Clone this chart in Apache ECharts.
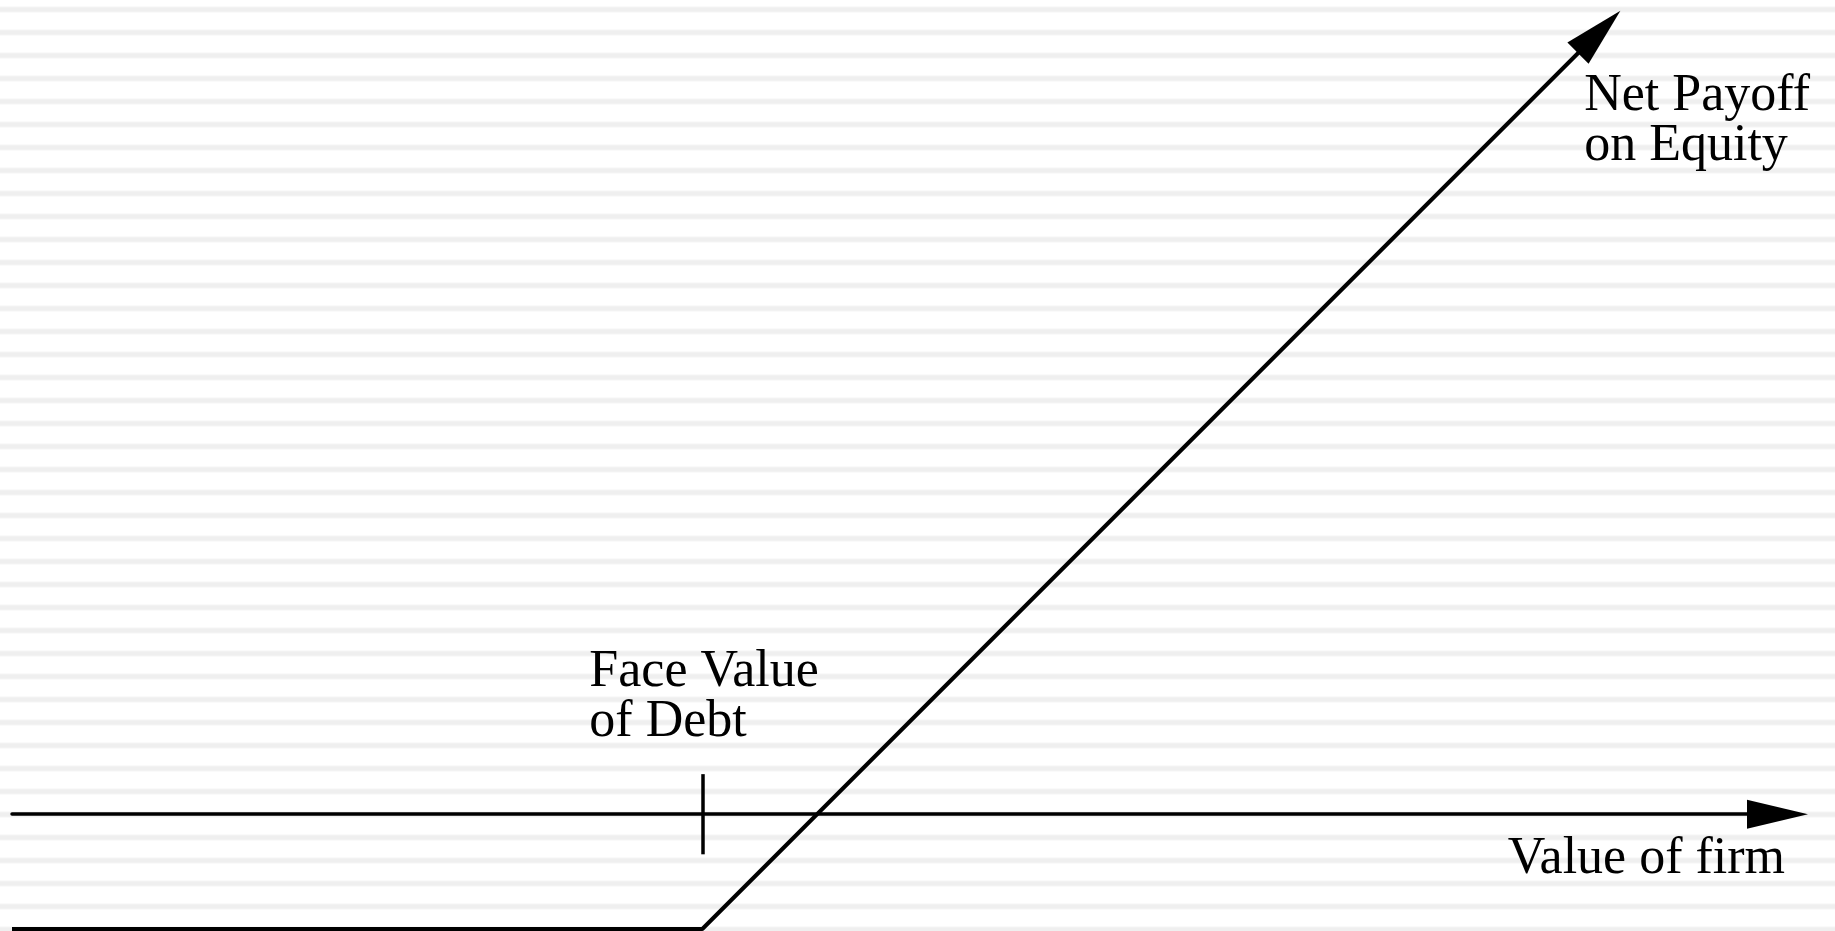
<!DOCTYPE html>
<html>
<head>
<meta charset="utf-8">
<title>Net Payoff on Equity</title>
<script src="https://cdn.jsdelivr.net/npm/echarts@6/dist/echarts.min.js"></script>
<style>
  html, body { margin: 0; padding: 0; background: #fff; }
  #payoff {
    width: 1835px;
    height: 931px;
    background: repeating-linear-gradient(to bottom,
      #fff 0px, #fff 6px, #f5f5f5 7px, #efefef 8px, #efefef 11px, #f5f5f5 12px, #fff 13px, #fff 23px);
  }
</style>
</head>
<body>
<div id="payoff"></div>
<script>
// value of the firm (x) and net payoff on equity (y), same units on both axes
var firmValue = [0, 39.1, 89.9];
var netPayoff = [-6.5, -6.5, 44.3];
var faceValueOfDebt = 39.1;
var xRange = [0, 100];
var yRange = [-6.5, 46];

var xName = 'Value of firm';
var faceLabel = 'Face Value\nof Debt';
var equityLabel = 'Net Payoff\non Equity';

var font = 'Liberation Serif';

var chart = echarts.init(document.getElementById('payoff'));

var lineData = firmValue.map(function (x, i) {
  var last = i === firmValue.length - 1;
  return {
    value: [x, netPayoff[i]],
    symbol: last ? 'triangle' : 'none',
    symbolSize: [30, 60],
    symbolRotate: -45
  };
});

var option = {
  animation: false,
  grid: {
    left: 12,
    right: 57.5,
    top: 2,
    bottom: 2,
    containLabel: false,
    outerBoundsMode: 'none'
  },
  xAxis: {
    type: 'value',
    min: xRange[0],
    max: xRange[1],
    name: xName,
    nameLocation: 'end',
    nameGap: 7.5,
    nameTextStyle: {
      fontFamily: font,
      fontSize: 52,
      lineHeight: 50,
      color: '#000',
      align: 'right',
      verticalAlign: 'top',
      padding: [20, 0, 0, 0]
    },
    axisLine: {
      onZero: true,
      symbol: ['none', 'triangle'],
      symbolSize: [29, 61],
      lineStyle: { color: '#000', width: 3.5 }
    },
    axisTick: { show: false },
    axisLabel: { show: false },
    splitLine: { show: false }
  },
  yAxis: {
    type: 'value',
    min: yRange[0],
    max: yRange[1],
    show: false,
    splitLine: { show: false }
  },
  series: [{
    type: 'line',
    data: lineData,
    symbol: 'triangle',
    showSymbol: true,
    clip: false,
    silent: true,
    itemStyle: { color: '#000' },
    lineStyle: { color: '#000', width: 4 },
    markLine: {
      silent: true,
      symbol: ['none', 'none'],
      label: { show: false },
      lineStyle: { color: '#000', width: 3.5, type: 'solid' },
      data: [[
        { coord: [faceValueOfDebt, -2.27] },
        { coord: [faceValueOfDebt, 2.27] }
      ]]
    }
  }]
};
chart.setOption(option);

// annotations placed from the data points they describe
var tickPx = chart.convertToPixel({ gridIndex: 0 }, [faceValueOfDebt, 0]);
var tipPx = chart.convertToPixel({ gridIndex: 0 }, [firmValue[2], netPayoff[2]]);

function textEl(str, x, y) {
  return {
    type: 'text',
    silent: true,
    x: x,
    y: y,
    style: {
      text: str,
      fontFamily: font,
      fontSize: 52,
      lineHeight: 50,
      fill: '#000',
      align: 'left',
      verticalAlign: 'top'
    }
  };
}

chart.setOption({
  graphic: [
    textEl(faceLabel, tickPx[0] - 113, tickPx[1] - 167),
    textEl(equityLabel, tipPx[0] - 15, tipPx[1] + 39)
  ]
});
</script>
</body>
</html>
